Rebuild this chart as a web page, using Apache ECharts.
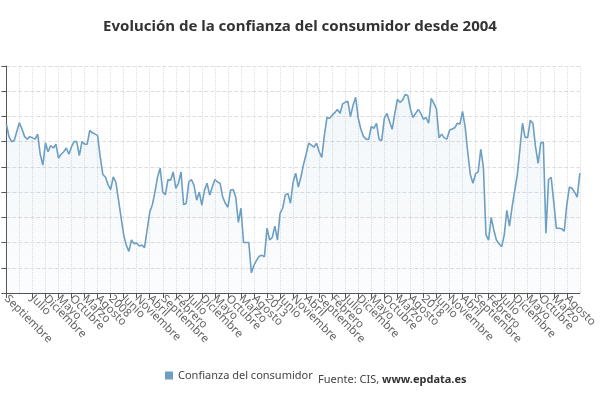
<!DOCTYPE html>
<html>
<head>
<meta charset="utf-8">
<script src="https://cdn.jsdelivr.net/npm/echarts@6/dist/echarts.min.js"></script>
<style>html,body{margin:0;padding:0;background:#fff}#main{width:600px;height:400px}</style>
</head>
<body>
<div id="main"></div>
<script>
// meses en castellano, enero se sustituye por el año
var meses = ['Enero', 'Febrero', 'Marzo', 'Abril', 'Mayo', 'Junio', 'Julio', 'Agosto', 'Septiembre', 'Octubre', 'Noviembre', 'Diciembre'];
var inicioAnio = 2004;
var inicioMes = 8; // septiembre

// índice de confianza del consumidor, mensual desde septiembre 2004
var confianza = [
  97, 92, 90, 90.5, 94, 97.5, 95, 92, 91, 92, 91.5, 91, 93, 85, 80.7, 89.5, 86, 88.5, 87.5, 89,
  83.5, 85, 86, 87.5, 85, 88, 90, 90, 84.5, 90, 89, 89, 94.5, 93.5, 93, 92.5, 84, 77, 76, 73,
  71, 76, 74, 67, 60, 53, 49, 46.5, 51, 49.5, 49.8, 48.6, 49, 48, 55, 62, 65, 70, 76, 79.5,
  70, 69, 75, 74.7, 78, 71.5, 73.5, 78, 65, 65.6, 74, 75, 72.7, 66.8, 70, 64.8, 70.8, 73.5, 68.8, 72,
  75, 74, 73.5, 68, 65.6, 64, 70.8, 71, 68, 58, 63.6, 50, 50, 50, 38, 41, 43, 44.6, 45, 44.3,
  55.7, 51, 52, 56.5, 51, 61.6, 63.6, 68.8, 69.5, 65.6, 74, 77.5, 72, 76, 81, 85, 89.4, 88.6, 87.8, 89.4,
  86, 83.8, 92.5, 99.6, 99.3, 100.5, 101.5, 102.8, 101.2, 105, 105.6, 106, 100, 104.4, 107.6, 99.3, 94.9, 92.1, 91, 90.9,
  96, 95.3, 97.3, 90.9, 90.5, 99.3, 101.2, 98, 94.9, 101, 106.8, 105.6, 106.5, 108.7, 108.3, 103, 99.6, 101.2, 102.8, 101.2,
  98.9, 99.6, 97.3, 107.2, 105.2, 103, 91.5, 93, 91.5, 91, 94.5, 95, 95.5, 97.3, 97, 102, 96, 85.8, 77, 73.5,
  77.3, 78, 87, 80, 53, 51, 60, 55, 51, 49.5, 48.3, 53, 62.8, 56.5, 64, 70.5, 76.7, 87, 97.3, 91.7,
  91.7, 98.5, 97.3, 88, 81.4, 89.5, 89.8, 53.7, 75, 75.9, 66, 55.7, 55.7, 55.5, 54.5, 65, 72, 71.5, 70, 68,
  77.5
];

var categorias = confianza.map(function (v, i) {
  var m = (inicioMes + i) % 12;
  var a = inicioAnio + Math.floor((inicioMes + i) / 12);
  return m === 0 ? String(a) : meses[m];
});

var myChart = echarts.init(document.getElementById('main'));

var option = {
  animation: false,
  textStyle: { fontFamily: 'Noto Sans' },
  title: {
    text: 'Evolución de la confianza del consumidor desde 2004',
    left: 'center',
    top: 14,
    textStyle: { fontSize: 15, fontWeight: 'bold', color: '#333' }
  },
  legend: {
    bottom: 14,
    left: 160,
    icon: 'rect',
    itemWidth: 8,
    itemHeight: 8,
    textStyle: { color: '#444', fontSize: 11 },
    data: ['Confianza del consumidor']
  },
  graphic: [{
    type: 'text',
    left: 318,
    bottom: 15,
    style: {
      text: '{a|Fuente: CIS, }{b|www.epdata.es}',
      rich: {
        a: { fontSize: 11, fill: '#444', fontFamily: 'Noto Sans' },
        b: { fontSize: 11, fill: '#333', fontWeight: 'bold', fontFamily: 'Noto Sans' }
      }
    }
  }],
  grid: { left: 5, right: 0, top: 66, bottom: 107 },
  xAxis: {
    type: 'category',
    boundaryGap: false,
    data: categorias,
    axisLine: { lineStyle: { color: '#555' } },
    axisTick: { interval: 4, lineStyle: { color: '#555' } },
    axisLabel: {
      interval: 4, rotate: -45, color: '#666', fontSize: 11.5, margin: 4,
      showMinLabel: true, hideOverlap: false
    },
    splitLine: { show: true, interval: 4, lineStyle: { color: '#ddd', type: 'dotted' } }
  },
  yAxis: {
    type: 'value',
    min: 30,
    max: 120,
    interval: 10,
    axisLine: { show: true, lineStyle: { color: '#555' } },
    axisTick: { show: true, lineStyle: { color: '#555' } },
    axisLabel: { show: false },
    splitLine: { lineStyle: { color: '#ddd', type: 'dashed' } }
  },
  series: [{
    name: 'Confianza del consumidor',
    type: 'line',
    data: confianza,
    symbol: 'none',
    itemStyle: { color: '#6c9fc2' },
    lineStyle: { width: 1.6, color: '#6c9fc2' },
    areaStyle: {
      color: new echarts.graphic.LinearGradient(0, 0, 0, 1, [
        { offset: 0, color: 'rgba(108,159,194,0.12)' },
        { offset: 1, color: 'rgba(108,159,194,0.04)' }
      ])
    }
  }]
};

myChart.setOption(option);
</script>
</body>
</html>
